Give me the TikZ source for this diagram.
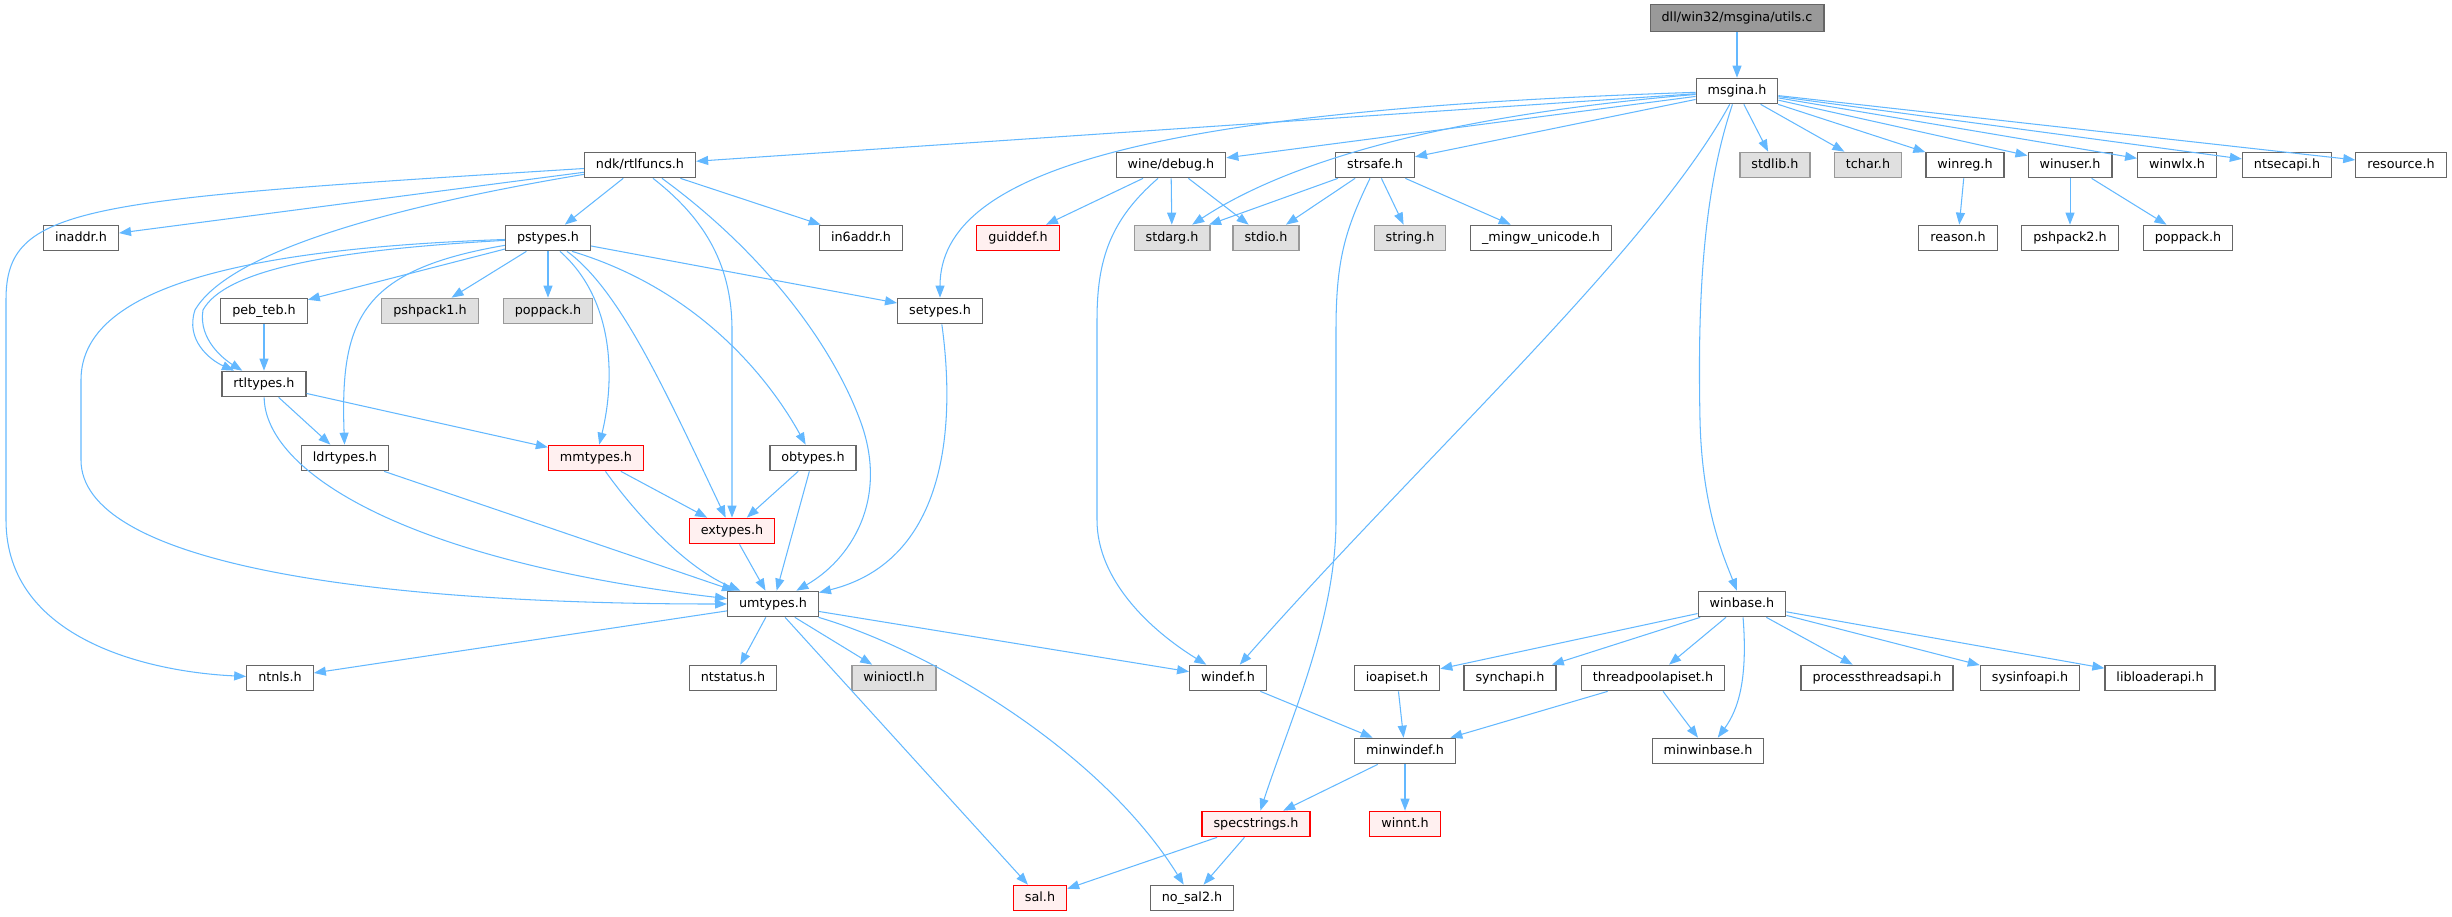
\documentclass[tikz,border=0pt]{standalone}
\usepackage{fontspec}
\setmainfont{DejaVu Sans}
\usetikzlibrary{arrows.meta}
\definecolor{edgeblue}{HTML}{63B8FF}
\definecolor{boxgray}{HTML}{666666}
\definecolor{extgray}{HTML}{999999}
\definecolor{extfill}{HTML}{E0E0E0}
\definecolor{redfill}{HTML}{FFF0F0}
\definecolor{rootfill}{HTML}{999999}
\begin{document}
\begin{tikzpicture}[x=1pt,y=-1pt,
  file/.style={draw=boxgray, fill=white, line width=1.2pt, inner xsep=11.5pt, inner ysep=0pt,
    minimum height=25.5pt, text height=9.6pt, text depth=2.6pt,
    font=\fontsize{12.75}{15}\selectfont},
  extfile/.style={file, draw=extgray, fill=extfill},
  truncfile/.style={file, draw=red, fill=redfill},
  rootfile/.style={file, draw=boxgray, fill=rootfill, minimum height=27pt},
  edge/.style={draw=edgeblue, line width=1.05pt, -{Triangle[length=12pt,width=9pt]}}]
\useasboundingbox (0,0) rectangle (2452,916);
% nodes
\node[rootfile] (root) at (1737,18) {dll/win32/msgina/utils.c};
\node[file] (msgina) at (1737,91) {msgina.h};
\node[file] (ndk) at (640,165) {ndk/rtlfuncs.h};
\node[file] (winedebug) at (1171,165) {wine/debug.h};
\node[file] (strsafe) at (1375,165) {strsafe.h};
\node[extfile] (stdlib) at (1775,165) {stdlib.h};
\node[extfile] (tchar) at (1868,165) {tchar.h};
\node[file] (winreg) at (1965,165) {winreg.h};
\node[file] (winuser) at (2070,165) {winuser.h};
\node[file] (winwlx) at (2177,165) {winwlx.h};
\node[file] (ntsecapi) at (2287,165) {ntsecapi.h};
\node[file] (resource) at (2401,165) {resource.h};
\node[file] (inaddr) at (81,238) {inaddr.h};
\node[file] (pstypes) at (548,238) {pstypes.h};
\node[file] (in6addr) at (861,238) {in6addr.h};
\node[truncfile] (guiddef) at (1018,238) {guiddef.h};
\node[extfile] (stdarg) at (1172,238) {stdarg.h};
\node[extfile] (stdio) at (1266,238) {stdio.h};
\node[extfile] (string) at (1410,238) {string.h};
\node[file] (mingw) at (1541,238) {\_mingw\_unicode.h};
\node[file] (reason) at (1958,238) {reason.h};
\node[file] (pshpacktwo) at (2070,238) {pshpack2.h};
\node[file] (poppacktwo) at (2188,238) {poppack.h};
\node[file] (pebteb) at (264,311) {peb\_teb.h};
\node[extfile] (pshpackone) at (430,311) {pshpack1.h};
\node[extfile] (poppackone) at (548,311) {poppack.h};
\node[file] (setypes) at (940,311) {setypes.h};
\node[file] (rtltypes) at (264,384) {rtltypes.h};
\node[file] (ldrtypes) at (345,458) {ldrtypes.h};
\node[truncfile] (mmtypes) at (596,458) {mmtypes.h};
\node[file] (obtypes) at (813,458) {obtypes.h};
\node[truncfile] (extypes) at (732,531) {extypes.h};
\node[file] (umtypes) at (773,604) {umtypes.h};
\node[file] (winbase) at (1742,604) {winbase.h};
\node[file] (ntnls) at (280,678) {ntnls.h};
\node[file] (ntstatus) at (733,678) {ntstatus.h};
\node[extfile] (winioctl) at (894,678) {winioctl.h};
\node[file] (windef) at (1228,678) {windef.h};
\node[file] (ioapiset) at (1397,678) {ioapiset.h};
\node[file] (synchapi) at (1510,678) {synchapi.h};
\node[file] (threadpool) at (1653,678) {threadpoolapiset.h};
\node[file] (procthreads) at (1877,678) {processthreadsapi.h};
\node[file] (sysinfo) at (2030,678) {sysinfoapi.h};
\node[file] (libloader) at (2160,678) {libloaderapi.h};
\node[file] (minwindef) at (1405,751) {minwindef.h};
\node[file] (minwinbase) at (1708,751) {minwinbase.h};
\node[truncfile] (specstrings) at (1256,824) {specstrings.h};
\node[truncfile] (winnt) at (1405,824) {winnt.h};
\node[truncfile] (sal) at (1040,898) {sal.h};
\node[file] (nosal) at (1192,898) {no\_sal2.h};
% edges
\draw[edge] (root) -- (msgina);
\draw[edge] (msgina) -- (ndk);
\draw[edge] (msgina) .. controls (1150,110) and (940,170) .. (setypes);
\draw[edge] (msgina) -- (winedebug);
\draw[edge] (msgina) .. controls (1450,115) and (1290,160) .. (stdarg);
\draw[edge] (msgina) -- (strsafe);
\draw[edge] (msgina) -- (stdlib);
\draw[edge] (msgina) -- (tchar);
\draw[edge] (msgina) -- (winreg);
\draw[edge] (msgina) -- (winuser);
\draw[edge] (msgina) -- (winwlx);
\draw[edge] (msgina) -- (ntsecapi);
\draw[edge] (msgina) -- (resource);
\draw[edge] (msgina) .. controls (1650,250) and (1420,460) .. (windef);
\draw[edge] (msgina) .. controls (1700,200) and (1698,320) .. (1700,420) .. controls (1702,510) and (1725,560) .. (winbase);
\draw[edge] (ndk) .. controls (80,200) and (6,205) .. (6,300) -- (6,520) .. controls (6,640) and (150,672) .. (ntnls);
\draw[edge] (ndk) -- (inaddr);
\draw[edge] (ndk) .. controls (400,205) and (230,250) .. (195,310) .. controls (185,340) and (210,360) .. (rtltypes);
\draw[edge] (ndk) -- (pstypes);
\draw[edge] ([xshift=13pt]ndk.south) .. controls (700,215) and (732,260) .. (732,330) -- (extypes);
\draw[edge] ([xshift=22pt]ndk.south) .. controls (760,250) and (830,340) .. (860,420) .. controls (890,500) and (850,560) .. (umtypes);
\draw[edge] (ndk) -- (in6addr);
\draw[edge] (pstypes) .. controls (330,250) and (225,270) .. (203,310) .. controls (198,340) and (225,360) .. (rtltypes);
\draw[edge] (pstypes) .. controls (200,250) and (81,300) .. (81,380) -- (81,460) .. controls (81,560) and (350,604) .. (umtypes);
\draw[edge] (pstypes) -- (pebteb);
\draw[edge] (pstypes) .. controls (360,270) and (340,320) .. (ldrtypes);
\draw[edge] (pstypes) -- (pshpackone);
\draw[edge] (pstypes) -- (poppackone);
\draw[edge] ([xshift=12pt]pstypes.south) .. controls (615,300) and (615,380) .. (mmtypes);
\draw[edge] ([xshift=19pt]pstypes.south) .. controls (620,290) and (665,390) .. (extypes);
\draw[edge] ([xshift=24pt]pstypes.south) .. controls (700,290) and (770,380) .. (obtypes);
\draw[edge] (pstypes) -- (setypes);
\draw[edge] (pebteb) -- (rtltypes);
\draw[edge] (rtltypes) -- (ldrtypes);
\draw[edge] (rtltypes) -- (mmtypes);
\draw[edge] (rtltypes) .. controls (265,470) and (400,560) .. (umtypes);
\draw[edge] (ldrtypes) -- (umtypes);
\draw[edge] (mmtypes) -- (extypes);
\draw[edge] (mmtypes) .. controls (640,520) and (690,570) .. (umtypes);
\draw[edge] (obtypes) -- (extypes);
\draw[edge] (obtypes) -- (umtypes);
\draw[edge] (extypes) -- (umtypes);
\draw[edge] (setypes) .. controls (955,420) and (950,560) .. (umtypes);
\draw[edge] (umtypes) -- (ntnls);
\draw[edge] (umtypes) -- (ntstatus);
\draw[edge] (umtypes) -- (winioctl);
\draw[edge] (umtypes) -- (windef);
\draw[edge] (umtypes) -- (sal);
\draw[edge] (umtypes) .. controls (930,650) and (1100,750) .. (nosal);
\draw[edge] (winedebug) -- (guiddef);
\draw[edge] (winedebug) -- (stdarg);
\draw[edge] (winedebug) -- (stdio);
\draw[edge] ([xshift=-13pt]winedebug.south) .. controls (1110,220) and (1097,260) .. (1097,320) -- (1097,520) .. controls (1097,580) and (1150,630) .. (windef);
\draw[edge] (strsafe) -- (stdarg);
\draw[edge] (strsafe) -- (stdio);
\draw[edge] (strsafe) -- (string);
\draw[edge] (strsafe) -- (mingw);
\draw[edge] ([xshift=-5pt]strsafe.south) .. controls (1345,230) and (1336,260) .. (1336,330) -- (1336,520) .. controls (1336,620) and (1290,720) .. (specstrings);
\draw[edge] (winreg) -- (reason);
\draw[edge] (winuser) -- (pshpacktwo);
\draw[edge] (winuser) -- (poppacktwo);
\draw[edge] (winbase) -- (ioapiset);
\draw[edge] (winbase) -- (synchapi);
\draw[edge] (winbase) -- (threadpool);
\draw[edge] (winbase) -- (procthreads);
\draw[edge] (winbase) -- (sysinfo);
\draw[edge] (winbase) -- (libloader);
\draw[edge] (winbase) .. controls (1748,680) and (1738,710) .. (minwinbase);
\draw[edge] (threadpool) -- (minwindef);
\draw[edge] (threadpool) -- (minwinbase);
\draw[edge] (windef) -- (minwindef);
\draw[edge] (ioapiset) -- (minwindef);
\draw[edge] (minwindef) -- (specstrings);
\draw[edge] (minwindef) -- (winnt);
\draw[edge] (specstrings) -- (sal);
\draw[edge] (specstrings) -- (nosal);
\end{tikzpicture}
\end{document}
